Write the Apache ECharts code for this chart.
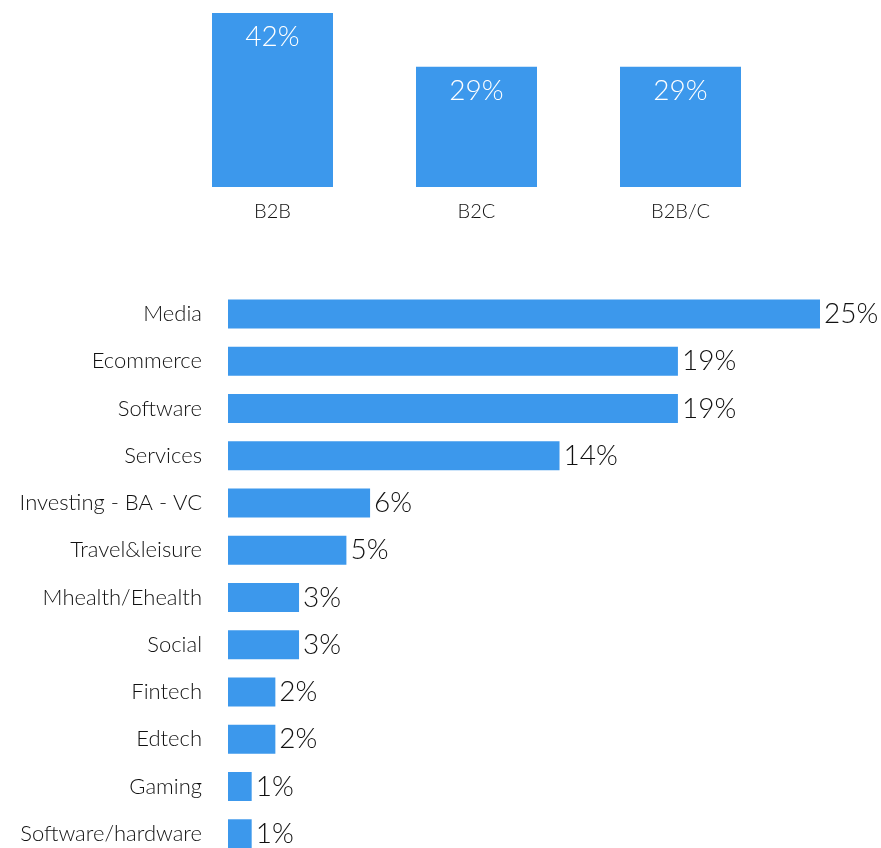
<!DOCTYPE html>
<html>
<head>
<meta charset="utf-8">
<script src="https://cdn.jsdelivr.net/npm/echarts@6/dist/echarts.min.js"></script>
<style>
html,body{margin:0;padding:0;background:#fff;}
#chart{width:881px;height:848px;}
</style>
</head>
<body>
<div id="chart"></div>
<script>
const modelCategories = ['B2B', 'B2C', 'B2B/C'];
const modelValues = [42, 29, 29];
const sectorCategories = ['Media', 'Ecommerce', 'Software', 'Services', 'Investing - BA - VC', 'Travel&leisure', 'Mhealth/Ehealth', 'Social', 'Fintech', 'Edtech', 'Gaming', 'Software/hardware'];
const sectorValues = [25, 19, 19, 14, 6, 5, 3, 3, 2, 2, 1, 1];

const barColor = '#3c98ec';
const font = 'Lato';
const chart = echarts.init(document.getElementById('chart'));
chart.setOption({
  backgroundColor: '#fff',
  animation: false,
  grid: [
    {left: 170.5, right: 98.5, top: 13, height: 174, containLabel: false, outerBoundsMode: 'none'},
    {left: 228, right: 61, top: 290.4, height: 567, containLabel: false, outerBoundsMode: 'none'}
  ],
  xAxis: [
    {type: 'category', gridIndex: 0, data: modelCategories,
     axisLine: {show: false}, axisTick: {show: false},
     axisLabel: {color: '#111', fontSize: 20, fontFamily: font, fontWeight: 300, margin: 15}},
    {type: 'value', gridIndex: 1, min: 0, max: 25, show: false}
  ],
  yAxis: [
    {type: 'value', gridIndex: 0, min: 0, max: 42, show: false},
    {type: 'category', gridIndex: 1, data: sectorCategories, inverse: true,
     axisLine: {show: false}, axisTick: {show: false},
     axisLabel: {color: '#111', fontSize: 22, fontFamily: font, fontWeight: 300, margin: 26}}
  ],
  series: [
    {type: 'bar', xAxisIndex: 0, yAxisIndex: 0, data: modelValues, barWidth: 121,
     itemStyle: {color: barColor},
     label: {show: true, position: 'insideTop', distance: 10, color: '#fff', fontSize: 28, fontFamily: font, fontWeight: 300,
             formatter: p => p.value + '%'}},
    {type: 'bar', xAxisIndex: 1, yAxisIndex: 1, data: sectorValues, barWidth: 29,
     itemStyle: {color: barColor},
     label: {show: true, position: 'right', distance: 4, color: '#111', fontSize: 28, fontFamily: font, fontWeight: 300,
             formatter: p => p.value + '%'}}
  ]
});
</script>
</body>
</html>
